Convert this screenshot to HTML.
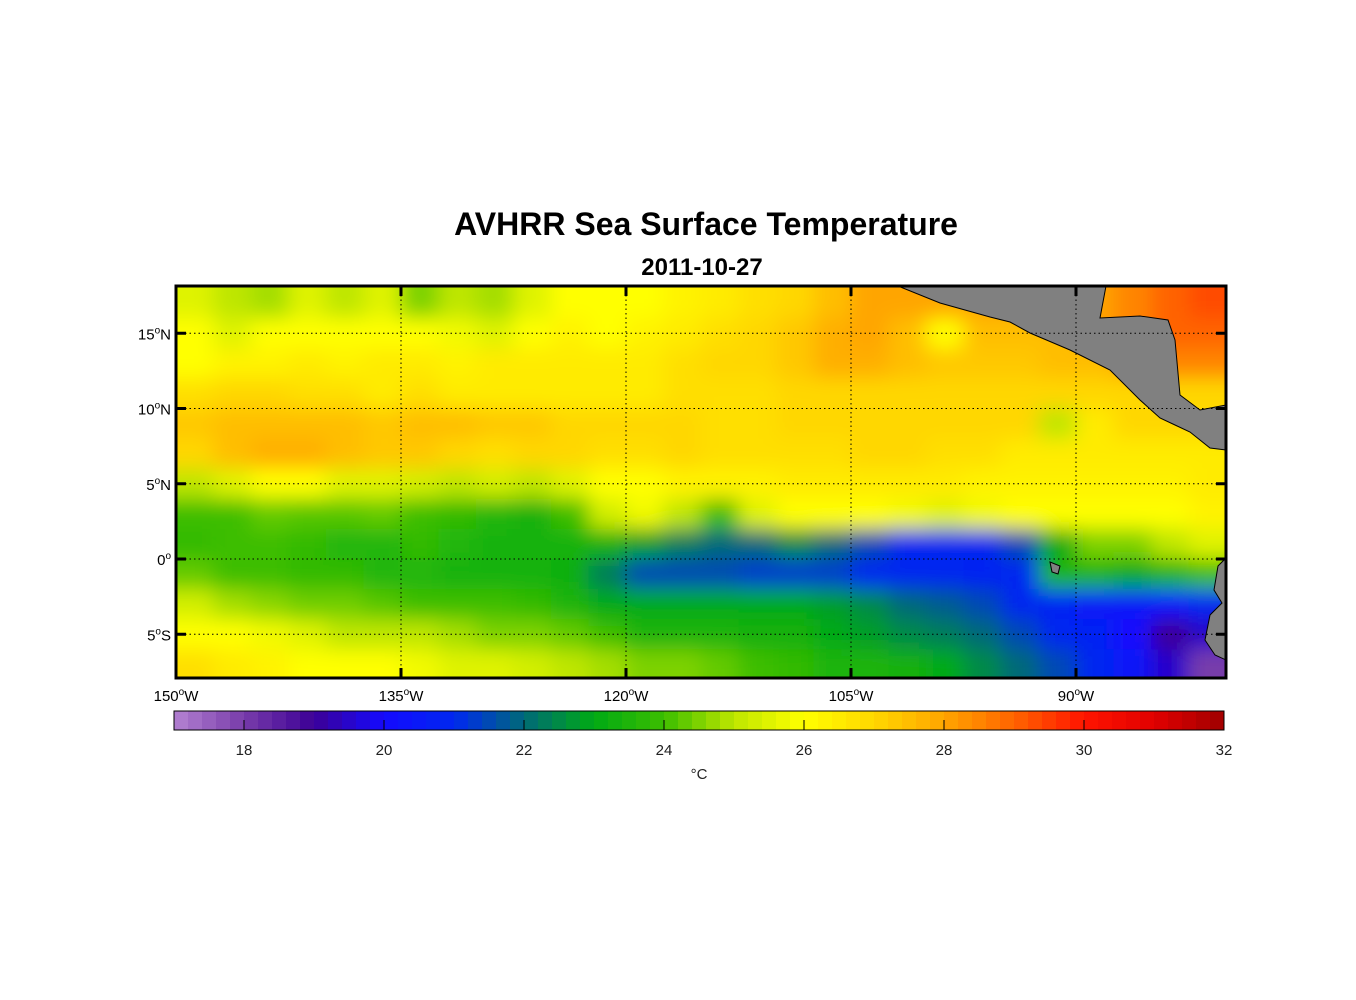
<!DOCTYPE html>
<html><head><meta charset="utf-8">
<style>
html,body{margin:0;padding:0;background:#fff;}
svg{display:block;font-family:"Liberation Sans",Arial,sans-serif;}
</style></head>
<body>
<svg id="chart" width="1356" height="1000" viewBox="0 0 1356 1000">
<defs>
<clipPath id="mapclip"><rect x="176" y="286" width="1050" height="392"/></clipPath>
<filter id="blur" x="-5%" y="-5%" width="110%" height="110%"><feGaussianBlur stdDeviation="10"/></filter>
</defs>
<text x="706" y="235" text-anchor="middle" font-size="32" font-weight="bold">AVHRR Sea Surface Temperature</text>
<text x="702" y="275" text-anchor="middle" font-size="24" font-weight="bold">2011-10-27</text>
<g clip-path="url(#mapclip)"><g id="cells" filter="url(#blur)"></g>
<g id="land">
<path d="M898,286 L940,303 L990,317 L1010,322 L1030,333 L1070,350 L1110,370 L1140,400 L1160,418 L1175,425 L1190,432 L1210,448 L1226,450 L1226,405 L1200,410 L1180,395 L1175,340 L1168,320 L1140,316 L1100,318 L1106,286 Z" fill="#808080" stroke="#000" stroke-width="1"/>
<path d="M1226,558 L1218,566 L1214,590 L1222,603 L1210,615 L1205,640 L1215,655 L1226,660 Z" fill="#808080" stroke="#000" stroke-width="1"/>
<path d="M1050,562 L1060,566 L1058,574 L1052,572 Z" fill="#808080" stroke="#000" stroke-width="1"/>
</g>
<g id="grid"></g>
</g>
<rect x="176" y="286" width="1050" height="392" fill="none" stroke="#000" stroke-width="3"/>
<g id="ticks"></g>
<g id="cbar"></g>
<text x="699" y="779" text-anchor="middle" font-size="15" fill="#222">°C</text>
</svg>
<script>
const NS="http://www.w3.org/2000/svg";
const lonCenters=[148.75,146.25,143.75,141.25,138.75,136.25,133.75,131.25,128.75,126.25,123.75,121.25,118.75,116.25,113.75,111.25,108.75,106.25,103.75,101.25,98.75,96.25,93.75,91.25,88.75,86.25,83.75,81.25];
const latCenters=[17,15,13,11,9,7,5,3,1,-1,-3,-5,-7];
const row17N=[25.5,25,24.8,25.5,25,25.5,24.5,25,24.8,25.5,26,26,26,26.3,26.5,26.8,27,27.5,28,28,28,28,28,28,28,28.5,29,29.3];
const row15N=[26,25.5,26,26,26,26,26,25.8,25.5,26,26.3,26,26.3,26.5,26.8,27,27.3,27.8,28,27.5,26,27.5,27.5,27.5,28,28.5,29,29];
const row13N=[26,26.3,26.3,26.5,26.3,26.5,26.5,26.3,26.5,26.5,26.5,26.5,26.5,26.8,27,27,27.3,27.8,27.8,27.5,27.3,27.3,27.3,27.5,27.5,28,28.5,28.5];
const row11N=[26.8,27,27,26.8,26.8,26.5,26.8,26.5,26.5,26.5,26.5,26.5,26.5,26.8,26.8,26.8,27,27,27,27,27,27,27,27,27,27,27,27];
const row9N=[27.3,27.5,27.5,27.5,27.5,27.3,27.5,27.5,27.3,27.3,27,27,27,27,26.8,26.8,27,27,27,27,27,27,27,25,26.5,27,27,27];
const row7N=[27,27.5,27.8,27.8,27.5,27.3,27.3,27,26.8,27,27,26.8,26.8,27,26.8,26.8,26.8,26.8,27,27,26.8,26.8,26.5,26.5,26.5,26.5,26.5,26.5];
const row5N=[25,25.5,26,26,25.5,25.5,25.3,25,25.3,25,25.5,26,26,26.3,26.3,26.3,26.5,26.5,26.5,26.5,26.5,26.3,26.3,26.3,26.3,26.3,26.3,26.5];
const row3N=[24,24,24.3,24.2,24.2,24.3,24,23.8,23.6,23.3,24,25.3,25.8,25,24,25.5,26,26,26,25.8,25.5,25.8,26,26,26,26,26,26.3];
const row1N=[23.8,24,24,23.8,23.6,23.6,23.8,23.6,23.4,23.4,23.4,23.3,22.8,22.3,22,22,22.5,22,21.5,21,21,21,21.5,23,24.5,24.5,25,25.5];
const row1S=[24.3,24,24,23.8,23.8,23.6,23.6,23.4,23.4,23.4,23.2,22.3,21.5,21.5,21.5,21.3,21.3,21.3,21,21,21,20.8,21,23.5,23.5,23,23.5,24];
const row3S=[25.3,24.8,24.6,24.4,24.4,24.2,24,24,24,23.8,23.5,23,23,23,23,23,23,22.8,22.5,22,21.8,21.5,21,20.8,20.5,20.5,20.3,21];
const row5S=[26,26,25.8,25.5,25,25,25,24.8,24.5,24.5,24.3,24,23.5,23.5,23.5,23.3,23.3,23,22.8,22.5,22.3,22,21.5,21,20.8,20,19,19.5];
const row7S=[26.8,26.5,26.3,26,26,26,25.8,25.5,25.5,25.3,25,24.8,24.5,24.5,24.3,24,23.8,23.5,23.5,23.3,23,22.5,22,21.5,21,20.5,19.5,18];
const rows=[row17N,row15N,row13N,row11N,row9N,row7N,row5N,row3N,row1N,row1S,row3S,row5S,row7S];
const lonTicks=[150,135,120,105,90];
const latTicks=[15,10,5,0,-5];
const cbarTicks=[18,20,22,24,26,28,30,32];
const cmapT=[17,18,19,20,21,22,23,24,25,26,27,28,29,30,31,32];
const cmapC=[[180,130,210],[120,60,170],[60,0,150],[20,10,255],[0,40,240],[0,105,120],[0,170,20],[60,190,0],[190,230,0],[255,255,0],[255,215,0],[255,165,0],[255,100,0],[255,20,0],[225,0,0],[160,0,0]];
function color(t){t=Math.max(17,Math.min(32,t));let i=Math.min(cmapT.length-2,Math.floor(t-17));const f=(t-cmapT[i]);const a=cmapC[i],b=cmapC[i+1];return `rgb(${a.map((v,k)=>Math.round(v+(b[k]-v)*f)).join(',')})`;}
const xOf=lonW=>176+(150-lonW)*15;
const yOf=lat=>559-lat*15.05;
const cbX=t=>174+(t-17)*70;
function mk(tag,attrs,parent){const e=document.createElementNS(NS,tag);for(const k in attrs)e.setAttribute(k,attrs[k]);parent.appendChild(e);return e;}
const cells=document.getElementById('cells');
rows.forEach((r,ri)=>{r.forEach((v,ci)=>{
 let x0=xOf(lonCenters[ci]+1.25),x1=xOf(lonCenters[ci]-1.25),y0=yOf(latCenters[ri]+1),y1=yOf(latCenters[ri]-1);
 if(ci===0)x0-=40; if(ci===r.length-1)x1+=40; if(ri===0)y0-=40; if(ri===rows.length-1)y1+=40;
 const c=mk('rect',{x:x0,y:y0,width:x1-x0+0.5,height:y1-y0+0.5,fill:color(v)},cells);
 
 
});});
const grid=document.getElementById('grid'),ticks=document.getElementById('ticks');
lonTicks.forEach(l=>{const x=xOf(l);
 const g=mk('line',{x1:x,x2:x,y1:286,y2:678,stroke:'#000','stroke-width':1,'stroke-dasharray':'1.5,3'},grid);
 
 mk('line',{x1:x,x2:x,y1:286,y2:296,stroke:'#000','stroke-width':3},ticks);
 mk('line',{x1:x,x2:x,y1:668,y2:678,stroke:'#000','stroke-width':3},ticks);
 const t=mk('text',{x:x,y:701,'text-anchor':'middle','font-size':15},ticks);
 
 t.innerHTML=`${l}<tspan font-size="10" dy="-6">o</tspan><tspan dy="6">W</tspan>`;
});
latTicks.forEach(l=>{const y=yOf(l);
 const g=mk('line',{x1:176,x2:1226,y1:y,y2:y,stroke:'#000','stroke-width':1,'stroke-dasharray':'1.5,3'},grid);
 
 mk('line',{x1:176,x2:186,y1:y,y2:y,stroke:'#000','stroke-width':3},ticks);
 mk('line',{x1:1216,x2:1226,y1:y,y2:y,stroke:'#000','stroke-width':3},ticks);
 const t=mk('text',{x:171,y:y+6,'text-anchor':'end','font-size':15},ticks);
 
 const h=l>0?'N':(l<0?'S':'');
 t.innerHTML=`${Math.abs(l)}<tspan font-size="10" dy="-6">o</tspan><tspan dy="6">${h}</tspan>`;
});
const cb=document.getElementById('cbar');
for(let k=0;k<75;k++){const t=17+k*0.2;const r=mk('rect',{x:cbX(t),y:711,width:14.5,height:19,fill:color(t+0.1)},cb);
 }
mk('rect',{x:174,y:711,width:1050,height:19,fill:'none',stroke:'#000','stroke-width':1},cb);
cbarTicks.forEach(v=>{const x=cbX(v);
 mk('line',{x1:x,x2:x,y1:720,y2:730,stroke:'#000','stroke-width':1},cb);
 const t=mk('text',{x:x,y:755,'text-anchor':'middle','font-size':15,fill:'#222'},cb);
 
 t.textContent=v;});
</script>
</body></html>
